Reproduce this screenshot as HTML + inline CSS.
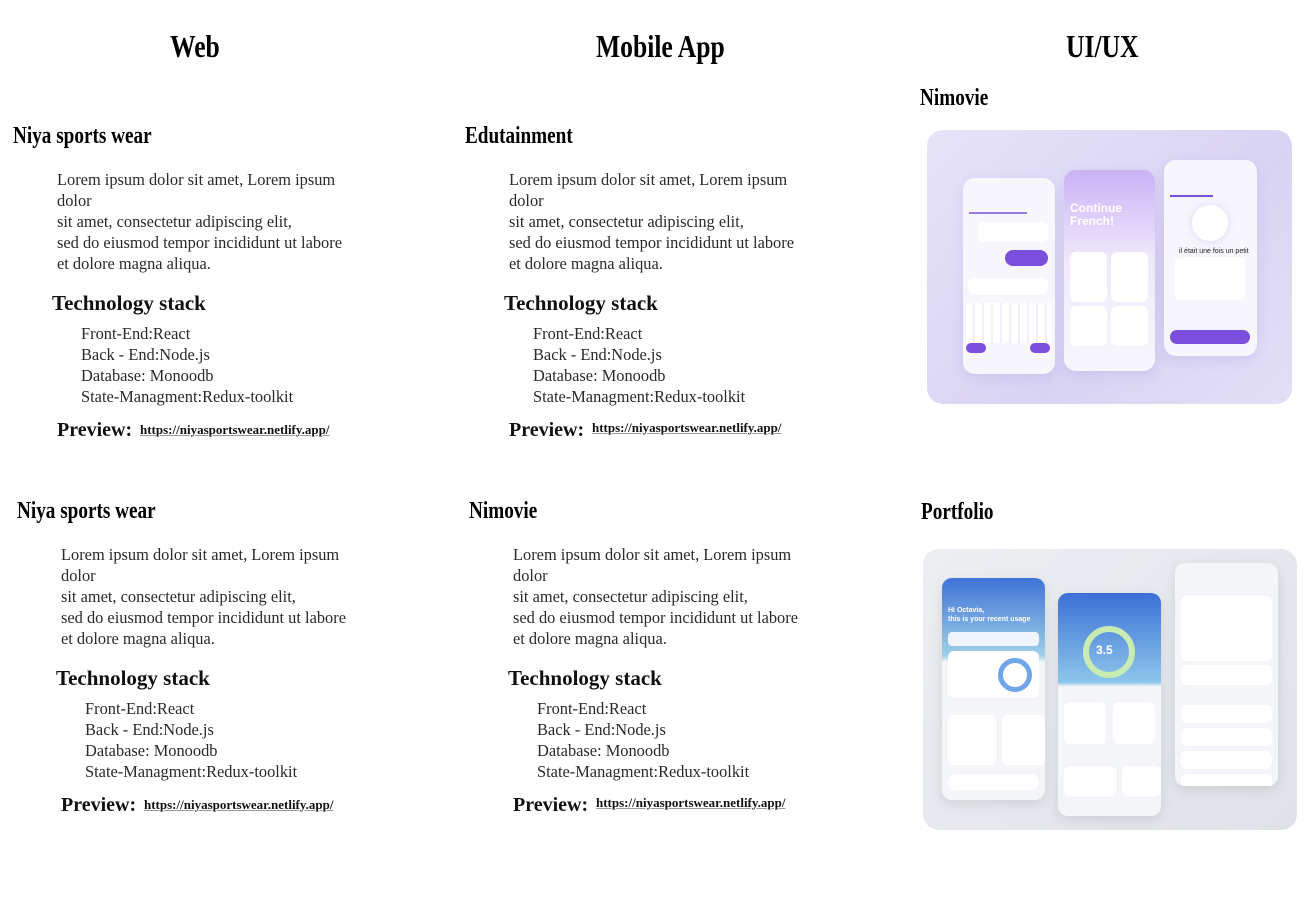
<!DOCTYPE html>
<html><head><meta charset="utf-8"><style>
*{margin:0;padding:0;box-sizing:border-box}
body{width:1316px;height:917px;background:#fff;position:relative;overflow:hidden;font-family:"Liberation Serif",serif;color:#222}
.a{position:absolute;white-space:nowrap}
.bl{font-family:"Liberation Serif",serif;font-weight:bold;color:#000;transform-origin:0 0;transform:scaleX(0.8)}
.h1{font-size:32px}
.h2{font-size:24px}
.p{font-size:16.4px;line-height:21px;color:#2a2a2a}
.ts{font-size:21px;font-weight:bold;color:#111}
.pv{font-size:20px;font-weight:bold;color:#111}
.lk{font-size:13px;font-weight:bold;color:#111;text-decoration:underline;text-decoration-color:#999}
.ph{position:absolute;background:#f7f6fd;border-radius:12px;box-shadow:0 4px 12px rgba(120,100,200,.15);overflow:hidden}
.ph2{position:absolute;background:#f4f5f8;border-radius:10px;box-shadow:0 4px 12px rgba(0,0,0,.1);overflow:hidden}
</style></head><body>

<div class="a bl h1" style="left:170px;top:28px">Web</div>
<div class="a bl h1" style="left:596px;top:28px">Mobile App</div>
<div class="a bl h1" style="left:1066px;top:28px">UI/UX</div>

<div class="a bl h2" style="left:13px;top:123px">Niya sports wear</div>
<div class="a p" style="left:57px;top:169px">Lorem ipsum dolor sit amet, Lorem ipsum<br>dolor<br>sit amet, consectetur adipiscing elit,<br>sed do eiusmod tempor incididunt ut labore<br>et dolore magna aliqua.</div>
<div class="a ts" style="left:52px;top:291px">Technology stack</div>
<div class="a p" style="left:81px;top:323px">Front-End:React<br>Back - End:Node.js<br>Database: Monoodb<br>State-Managment:Redux-toolkit</div>
<div class="a pv" style="left:57px;top:419px">Preview:</div>
<div class="a lk" style="left:140px;top:422px">https://niyasportswear.netlify.app/</div>

<div class="a bl h2" style="left:465px;top:123px">Edutainment</div>
<div class="a p" style="left:509px;top:169px">Lorem ipsum dolor sit amet, Lorem ipsum<br>dolor<br>sit amet, consectetur adipiscing elit,<br>sed do eiusmod tempor incididunt ut labore<br>et dolore magna aliqua.</div>
<div class="a ts" style="left:504px;top:291px">Technology stack</div>
<div class="a p" style="left:533px;top:323px">Front-End:React<br>Back - End:Node.js<br>Database: Monoodb<br>State-Managment:Redux-toolkit</div>
<div class="a pv" style="left:509px;top:419px">Preview:</div>
<div class="a lk" style="left:592px;top:420px">https://niyasportswear.netlify.app/</div>

<div class="a bl h2" style="left:17px;top:498px">Niya sports wear</div>
<div class="a p" style="left:61px;top:544px">Lorem ipsum dolor sit amet, Lorem ipsum<br>dolor<br>sit amet, consectetur adipiscing elit,<br>sed do eiusmod tempor incididunt ut labore<br>et dolore magna aliqua.</div>
<div class="a ts" style="left:56px;top:666px">Technology stack</div>
<div class="a p" style="left:85px;top:698px">Front-End:React<br>Back - End:Node.js<br>Database: Monoodb<br>State-Managment:Redux-toolkit</div>
<div class="a pv" style="left:61px;top:794px">Preview:</div>
<div class="a lk" style="left:144px;top:797px">https://niyasportswear.netlify.app/</div>

<div class="a bl h2" style="left:469px;top:498px">Nimovie</div>
<div class="a p" style="left:513px;top:544px">Lorem ipsum dolor sit amet, Lorem ipsum<br>dolor<br>sit amet, consectetur adipiscing elit,<br>sed do eiusmod tempor incididunt ut labore<br>et dolore magna aliqua.</div>
<div class="a ts" style="left:508px;top:666px">Technology stack</div>
<div class="a p" style="left:537px;top:698px">Front-End:React<br>Back - End:Node.js<br>Database: Monoodb<br>State-Managment:Redux-toolkit</div>
<div class="a pv" style="left:513px;top:794px">Preview:</div>
<div class="a lk" style="left:596px;top:795px">https://niyasportswear.netlify.app/</div>

<div class="a bl h2" style="left:920px;top:85px">Nimovie</div>
<div class="a bl h2" style="left:921px;top:499px">Portfolio</div>

<!-- image 1 -->
<div class="a" style="left:927px;top:130px;width:365px;height:274px;border-radius:16px;background:linear-gradient(135deg,#e6e3f8,#d9d3f3 60%,#e3dff7)"></div>
<div class="ph" style="left:963px;top:178px;width:92px;height:196px">
  <div class="a" style="left:6px;top:34px;width:58px;height:2px;background:#9a7be0"></div>
  <div class="a" style="left:15px;top:44px;width:70px;height:20px;background:#fff;border-radius:6px"></div>
  <div class="a" style="left:42px;top:72px;width:43px;height:16px;background:#7b4fdc;border-radius:8px"></div>
  <div class="a" style="left:5px;top:100px;width:80px;height:16px;background:#fff;border-radius:6px"></div>
  <div class="a" style="left:3px;top:125px;width:86px;height:40px;background:repeating-linear-gradient(90deg,#fff 0 7px,#f0eef9 7px 9px)"></div>
  <div class="a" style="left:3px;top:165px;width:20px;height:10px;background:#7b4fdc;border-radius:5px"></div>
  <div class="a" style="left:67px;top:165px;width:20px;height:10px;background:#7b4fdc;border-radius:5px"></div>
</div>
<div class="ph" style="left:1064px;top:170px;width:91px;height:201px;background:linear-gradient(180deg,#c9b2f5,#efe9fc 45%,#f7f6fd)">
  <div class="a" style="left:6px;top:32px;font:bold 12px 'Liberation Sans',sans-serif;color:#fff;line-height:13px">Continue<br>French!</div>
  <div class="a" style="left:6px;top:82px;width:37px;height:50px;background:#fff;border-radius:6px"></div>
  <div class="a" style="left:47px;top:82px;width:37px;height:50px;background:#fff;border-radius:6px"></div>
  <div class="a" style="left:6px;top:136px;width:37px;height:40px;background:#fff;border-radius:6px"></div>
  <div class="a" style="left:47px;top:136px;width:37px;height:40px;background:#fff;border-radius:6px"></div>
</div>
<div class="ph" style="left:1164px;top:160px;width:93px;height:196px">
  <div class="a" style="left:6px;top:35px;width:43px;height:2px;background:#7b4fdc"></div>
  <div class="a" style="left:28px;top:45px;width:36px;height:36px;background:#fff;border-radius:50%;box-shadow:0 0 10px rgba(120,90,220,.2)"></div>
  <div class="a" style="left:15px;top:88px;font:7px 'Liberation Sans',sans-serif;color:#222">il était une fois un petit</div>
  <div class="a" style="left:11px;top:98px;width:70px;height:42px;background:#fff;border-radius:4px"></div>
  <div class="a" style="left:6px;top:170px;width:80px;height:14px;background:#7b4fdc;border-radius:7px"></div>
</div>

<!-- image 2 -->
<div class="a" style="left:923px;top:549px;width:374px;height:281px;border-radius:16px;background:linear-gradient(135deg,#eceef2,#dfe2e8)"></div>
<div class="ph2" style="left:942px;top:578px;width:103px;height:222px;background:linear-gradient(180deg,#3f73d6,#9fd0e8 35%,#f4f5f8 38%)">
  <div class="a" style="left:6px;top:28px;font:bold 7px 'Liberation Sans',sans-serif;color:#fff;line-height:9px">Hi Octavia,<br>this is your recent usage</div>
  <div class="a" style="left:6px;top:54px;width:91px;height:14px;background:#eef3fc;border-radius:4px"></div>
  <div class="a" style="left:6px;top:73px;width:91px;height:47px;background:#fff;border-radius:6px"></div>
  <div class="a" style="left:56px;top:80px;width:34px;height:34px;border:5px solid #6fa6e8;border-radius:50%"></div>
  <div class="a" style="left:6px;top:137px;width:48px;height:50px;background:#fff;border-radius:6px"></div>
  <div class="a" style="left:60px;top:137px;width:43px;height:50px;background:#fff;border-radius:6px"></div>
  <div class="a" style="left:6px;top:196px;width:91px;height:16px;background:#fff;border-radius:8px"></div>
</div>
<div class="ph2" style="left:1058px;top:593px;width:103px;height:223px;background:linear-gradient(180deg,#3c6fd6,#8cc6ea 40%,#f4f5f8 42%)">
  <div class="a" style="left:25px;top:33px;width:52px;height:52px;border:6px solid #c9ecb3;border-radius:50%"></div>
  <div class="a" style="left:38px;top:50px;font:bold 12px 'Liberation Sans',sans-serif;color:#fff">3.5</div>
  <div class="a" style="left:6px;top:109px;width:42px;height:42px;background:#fff;border-radius:6px"></div>
  <div class="a" style="left:55px;top:109px;width:42px;height:42px;background:#fff;border-radius:6px"></div>
  <div class="a" style="left:6px;top:173px;width:52px;height:30px;background:#fff;border-radius:6px"></div>
  <div class="a" style="left:64px;top:173px;width:39px;height:30px;background:#fff;border-radius:6px"></div>
</div>
<div class="ph2" style="left:1175px;top:563px;width:103px;height:223px">
  <div class="a" style="left:6px;top:33px;width:91px;height:65px;background:#fff;border-radius:6px"></div>
  <div class="a" style="left:6px;top:102px;width:91px;height:20px;background:#fff;border-radius:6px"></div>
  <div class="a" style="left:6px;top:142px;width:91px;height:18px;background:#fff;border-radius:6px"></div>
  <div class="a" style="left:6px;top:165px;width:91px;height:18px;background:#fff;border-radius:6px"></div>
  <div class="a" style="left:6px;top:188px;width:91px;height:18px;background:#fff;border-radius:6px"></div>
  <div class="a" style="left:6px;top:211px;width:91px;height:18px;background:#fff;border-radius:6px"></div>
</div>
</body></html>
